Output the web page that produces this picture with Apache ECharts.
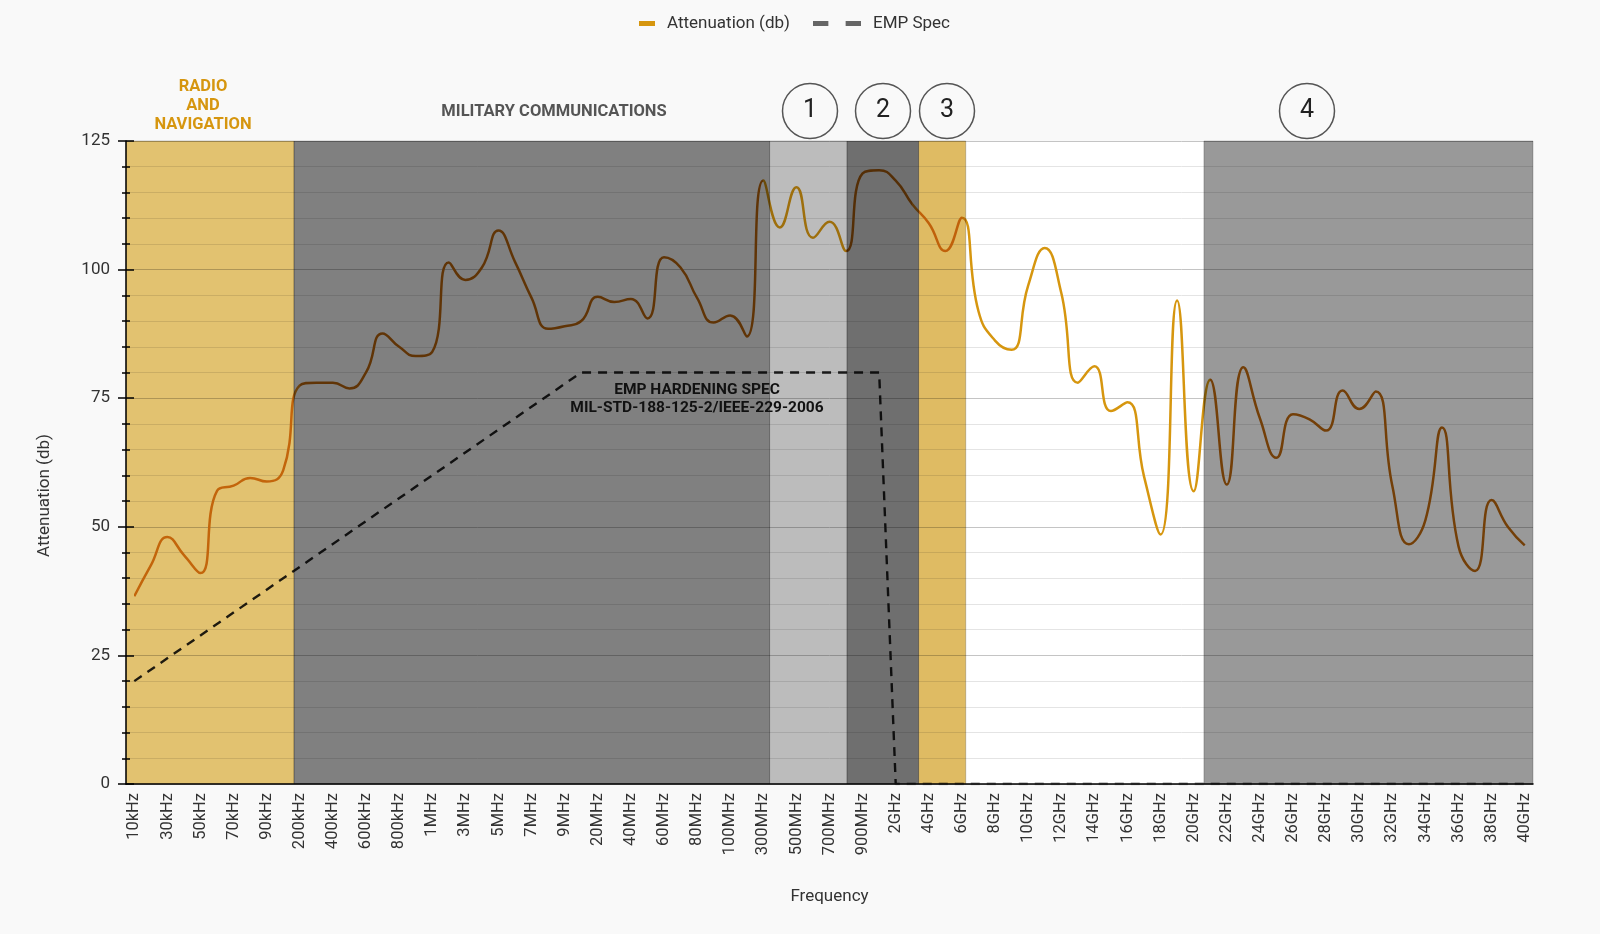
<!DOCTYPE html>
<html>
<head>
<meta charset="utf-8">
<title>Attenuation vs Frequency</title>
<script src="https://cdn.jsdelivr.net/npm/echarts@6/dist/echarts.min.js"></script>
<style>
html, body { margin: 0; padding: 0; background: #f9f9f9; }
#main { width: 1600px; height: 934px; }
</style>
</head>
<body>
<div id="main"></div>
<script>
// frequency categories (labels shown every other one)
var frequencies = [
  '10kHz','20kHz','30kHz','40kHz','50kHz','60kHz','70kHz','80kHz','90kHz','100kHz',
  '200kHz','300kHz','400kHz','500kHz','600kHz','700kHz','800kHz','900kHz',
  '1MHz','2MHz','3MHz','4MHz','5MHz','6MHz','7MHz','8MHz','9MHz','10MHz',
  '20MHz','30MHz','40MHz','50MHz','60MHz','70MHz','80MHz','90MHz','100MHz',
  '200MHz','300MHz','400MHz','500MHz','600MHz','700MHz','800MHz','900MHz',
  '1GHz','2GHz','3GHz','4GHz','5GHz','6GHz','7GHz','8GHz','9GHz','10GHz',
  '11GHz','12GHz','13GHz','14GHz','15GHz','16GHz','17GHz','18GHz','19GHz','20GHz',
  '21GHz','22GHz','23GHz','24GHz','25GHz','26GHz','27GHz','28GHz','29GHz','30GHz',
  '31GHz','32GHz','33GHz','34GHz','35GHz','36GHz','37GHz','38GHz','39GHz','40GHz'
];

// measured attenuation (db)
var attenuation = [
  36.5, 42.5, 48, 44.5, 41, 57, 58, 59.5, 58.8, 61,
  77.5, 78, 78, 76.9, 80, 87.6, 85, 83.2,
  84, 101.4, 98, 100.4, 107.6, 101.5, 94.5, 88.5, 89, 90,
  94.7, 93.7, 94.3, 90.5, 102.4, 100.4, 94.5, 89.7, 91.1,
  87, 117.3, 108.2, 116, 106.2, 109.3, 103.6, 118.7,
  119.3, 117.3, 112.7, 109, 103.6, 110.1, 91.9, 86.2, 84.4, 96.9,
  104.2, 95.5, 78, 81.2, 72.5, 74.2, 59.8, 48.5, 94, 56.9,
  78.6, 58.2, 81, 71.1, 63.4, 71.9, 70.9, 68.7, 76.5, 72.9,
  76.3, 58, 46.6, 51.3, 69.3, 46.2, 41.4, 55.2, 49.9, 46.4
];

// EMP hardening spec corner points
var empFreq = ['10kHz', '10MHz', '1GHz', '2GHz', '40GHz'];
var empValue = [20, 80, 80, 0, 0];

// shaded bands, in category units (0..85)
var bandStart = [0, 10.15, 38.88, 43.56, 47.88, 65.12];
var bandEnd = [10.15, 38.88, 43.56, 47.88, 50.73, 85];
var bandColors = ['#e2c270', '#808080', '#bcbcbc', '#6f6f6f', '#dfbb63', '#999999'];
// line tint under each band (band 6 is the open white gap)
var lineTints = ['#dc8418', '#c0680c', '#d6960f', '#c0680c', '#dc8418', '#c0680c'];

var yTicks = [0, 25, 50, 75, 100, 125];

var chart = echarts.init(document.getElementById('main'));

var empData = empFreq.map(function (f, i) { return [f, empValue[i]]; });
var bandData = bandStart.map(function (s, i) { return [s, bandEnd[i]]; });

// visualMap pieces along the category index (point i sits at unit i + 0.5)
var pieces = bandStart.map(function (s, i) {
  return { gte: s - 0.5, lt: bandEnd[i] - 0.5, color: lineTints[i] };
});
pieces.push({ gte: bandEnd[4] - 0.5, lt: bandStart[5] - 0.5, color: '#d6960f' });

function label(txt, x, y, font, color) {
  return { type: 'text', x: x, y: y, z: 10,
    style: { text: txt, fill: color, font: font, align: 'center', verticalAlign: 'middle' } };
}
function ring(x, y) {
  return { type: 'circle', shape: { cx: x, cy: y, r: 27.5 }, style: { fill: 'none', stroke: '#555', lineWidth: 1.5 } };
}

var option = {
  backgroundColor: '#f9f9f9',
  textStyle: { fontFamily: 'Roboto' },
  legend: [
    {
      data: [{ name: 'Attenuation (db)', icon: 'rect', itemStyle: { color: '#d6960f' } }],
      left: 634, top: 10,
      itemWidth: 16, itemHeight: 5,
      textStyle: { fontSize: 17, color: '#333', padding: [0, 0, 0, 7] }
    },
    {
      data: [{ name: 'EMP Spec', icon: 'path://M0,0H16V5H0Z M34,0H50V5H34Z' }],
      left: 808, top: 10,
      itemWidth: 48, itemHeight: 5,
      itemStyle: { color: '#666' },
      textStyle: { fontSize: 17, color: '#333', padding: [0, 0, 0, 7] }
    }
  ],
  visualMap: {
    show: false,
    type: 'piecewise',
    seriesIndex: 0,
    dimension: 0,
    pieces: pieces
  },
  grid: {
    left: 126, right: 67, top: 141, bottom: 150,
    show: true, backgroundColor: '#ffffff', borderWidth: 0
  },
  xAxis: [
    {
      type: 'category',
      data: frequencies,
      name: 'Frequency',
      nameLocation: 'middle',
      nameGap: 104,
      nameTextStyle: { fontSize: 17, color: '#333' },
      axisLine: { lineStyle: { color: '#000', width: 1.5 } },
      axisTick: { show: false },
      axisLabel: { interval: 1, rotate: 90, fontSize: 16.5, color: '#333', margin: 9 }
    },
    {
      type: 'value', min: 0, max: 85, show: false
    }
  ],
  yAxis: [
    {
      type: 'value',
      min: yTicks[0], max: yTicks[yTicks.length - 1], interval: 25,
      name: 'Attenuation (db)',
      nameLocation: 'middle',
      nameGap: 73,
      nameTextStyle: { fontSize: 17, color: '#333', padding: [0, 66, 0, 0] },
      axisLine: { show: true, lineStyle: { color: '#000', width: 1.5 } },
      axisTick: { show: true, length: 8, lineStyle: { color: '#000', width: 1.5 } },
      minorTick: { show: true, splitNumber: 5, length: 4, lineStyle: { color: '#000', width: 1.5 } },
      axisLabel: { fontSize: 17, color: '#333', margin: 16 },
      splitLine: { lineStyle: { color: '#c4c4c4', width: 1 } },
      minorSplitLine: { show: true, lineStyle: { color: '#e4e4e4', width: 1 } }
    },
    {
      type: 'value',
      position: 'left',
      min: yTicks[0], max: yTicks[yTicks.length - 1], interval: 25,
      axisLine: { show: false },
      axisTick: { show: true, inside: true, length: 8, lineStyle: { color: '#000', width: 1.5 } },
      minorTick: { show: true, splitNumber: 5, length: 4, lineStyle: { color: '#000', width: 1.5 } },
      axisLabel: { show: false },
      splitLine: { show: false }
    }
  ],
  series: [
    {
      name: 'Attenuation (db)',
      type: 'line',
      data: attenuation,
      smooth: 0.5,
      symbol: 'none',
      color: '#d6960f',
      lineStyle: { width: 2.5 },
      z: 2
    },
    {
      name: 'EMP Spec',
      type: 'line',
      data: empData,
      symbol: 'none',
      color: '#666',
      lineStyle: { color: '#222', width: 2.4, type: [9, 7] },
      z: 2
    },
    {
      name: 'bands',
      type: 'custom',
      xAxisIndex: 1,
      yAxisIndex: 0,
      data: bandData,
      encode: { x: [0, 1] },
      blendMode: 'multiply',
      silent: true,
      z: 3,
      renderItem: function (params, api) {
        var p0 = api.coord([api.value(0), 125]);
        var p1 = api.coord([api.value(1), 0]);
        return {
          type: 'rect',
          shape: { x: p0[0], y: p0[1], width: p1[0] - p0[0], height: p1[1] - p0[1] },
          style: { fill: bandColors[params.dataIndex], stroke: 'rgba(0,0,0,0.2)', lineWidth: 1 }
        };
      }
    }
  ],
  graphic: [
    label('RADIO', 203, 87, 'bold 16.5px Roboto', '#d6960f'),
    label('AND', 203, 106, 'bold 16.5px Roboto', '#d6960f'),
    label('NAVIGATION', 203, 125, 'bold 16.5px Roboto', '#d6960f'),
    label('MILITARY COMMUNICATIONS', 554, 112, 'bold 16.5px Roboto', '#555'),
    ring(810, 111), ring(883, 111), ring(947, 111), ring(1307, 111),
    label('1', 810, 111, '25px Roboto', '#222'),
    label('2', 883, 111, '25px Roboto', '#222'),
    label('3', 947, 111, '25px Roboto', '#222'),
    label('4', 1307, 111, '25px Roboto', '#222'),
    label('EMP HARDENING SPEC', 697, 390, 'bold 15.5px Roboto', '#111'),
    label('MIL-STD-188-125-2/IEEE-229-2006', 697, 408, 'bold 15.5px Roboto', '#111')
  ]
};

chart.setOption(option);
</script>
</body>
</html>
